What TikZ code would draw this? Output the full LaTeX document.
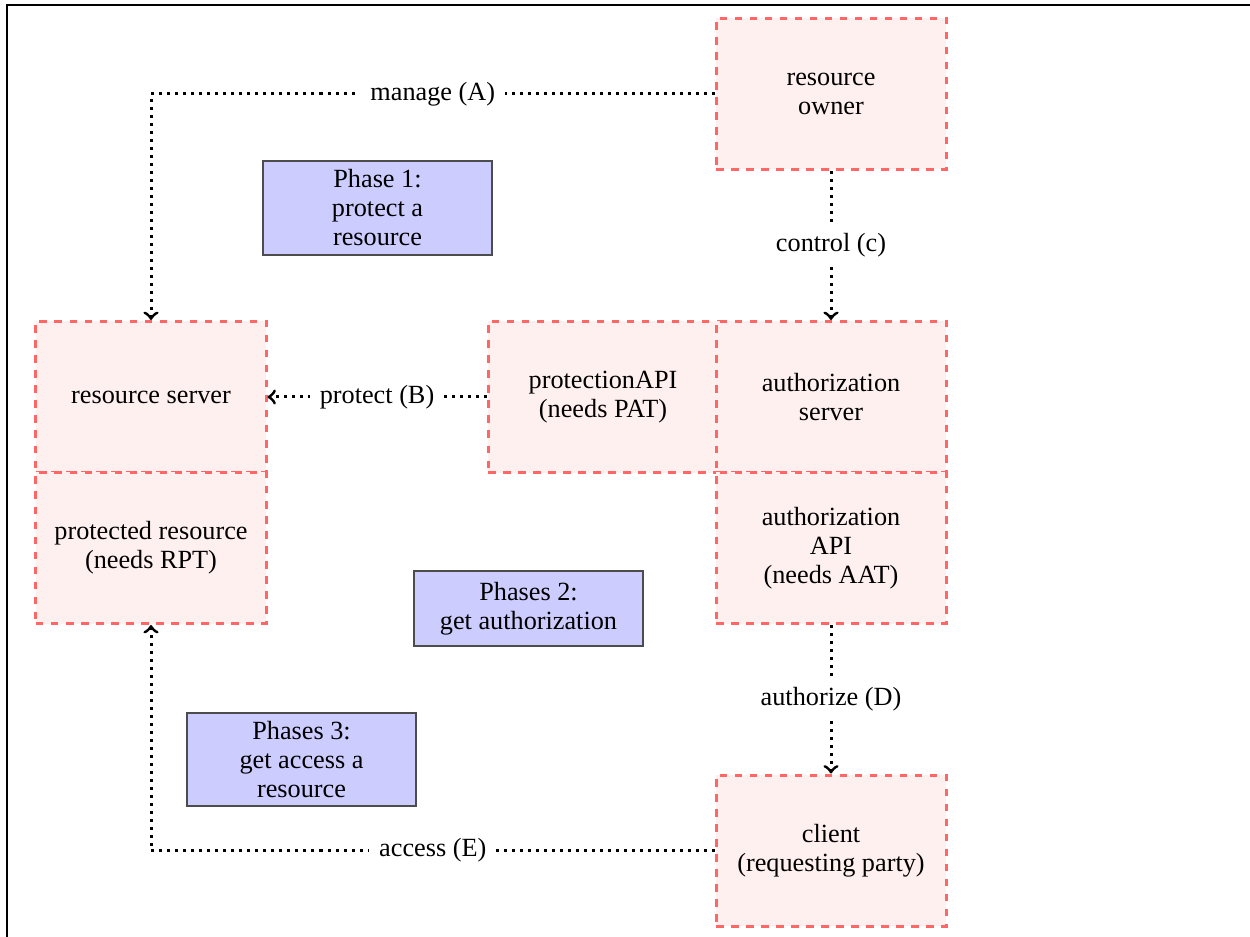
\documentclass[tikz,border=0pt]{standalone}
\usepackage{fontspec}
\setmainfont{Liberation Serif}
\definecolor{boxred}{HTML}{FF6666}
\definecolor{boxfill}{HTML}{FFF0F0}
\definecolor{phasefill}{HTML}{CCCCFF}
\begin{document}
\begin{tikzpicture}[x=0.4pt,y=-0.4pt,
  font=\fontsize{10.5pt}{11.6pt}\selectfont,
  actor/.style={draw=boxred, fill=boxfill, dashed, line width=1.2pt,
    minimum width=92pt, minimum height=60.4pt, align=center, inner sep=2pt},
  phase/.style={draw=black!70, fill=phasefill, line width=0.5pt,
    minimum width=91.6pt, align=center, inner xsep=2pt, inner ysep=1pt},
  flow/.style={->, dotted, line width=1.2pt},
  lbl/.style={fill=white, inner sep=4pt}]
\useasboundingbox (0,0) rectangle (1250,937);
\draw[line width=0.8pt] (1250,5) -- (7,5) -- (7,937);

% actors
\node[actor] (owner) at (831,94) {resource\\owner};
\node[actor] (rs) at (151,397) {resource server};
\node[actor] (pr) at (151,548) {protected resource\\(needs RPT)};
\node[actor] (papi) at (603,397) {protectionAPI\\(needs PAT)};
\node[actor] (as) at (831,397) {authorization\\server};
\node[actor] (aapi) at (831,548) {authorization\\API\\(needs AAT)};
\node[actor] (client) at (831,850.5) {client\\(requesting party)};

% phases
\node[phase, minimum height=37.6pt] (ph1) at (377.5,208) {Phase 1:\\protect a\\resource};
\node[phase, minimum height=30pt] (ph2) at (528.5,608.5) {Phases 2:\\get authorization};
\node[phase, minimum height=37.2pt] (ph3) at (301.5,759.5) {Phases 3:\\get access a\\resource};

% flows
\draw[flow] (owner.west) -| node[lbl, pos=0.25] {manage (A)} (rs.north);
\draw[flow] (owner.south) -- node[lbl] {control (c)} (as.north);
\draw[flow] (papi.west) -- node[lbl] {protect (B)} (rs.east);
\draw[flow] (aapi.south) -- node[lbl] {authorize (D)} (client.north);
\draw[flow] (client.west) -| node[lbl, pos=0.25] {access (E)} (pr.south);
\end{tikzpicture}
\end{document}
